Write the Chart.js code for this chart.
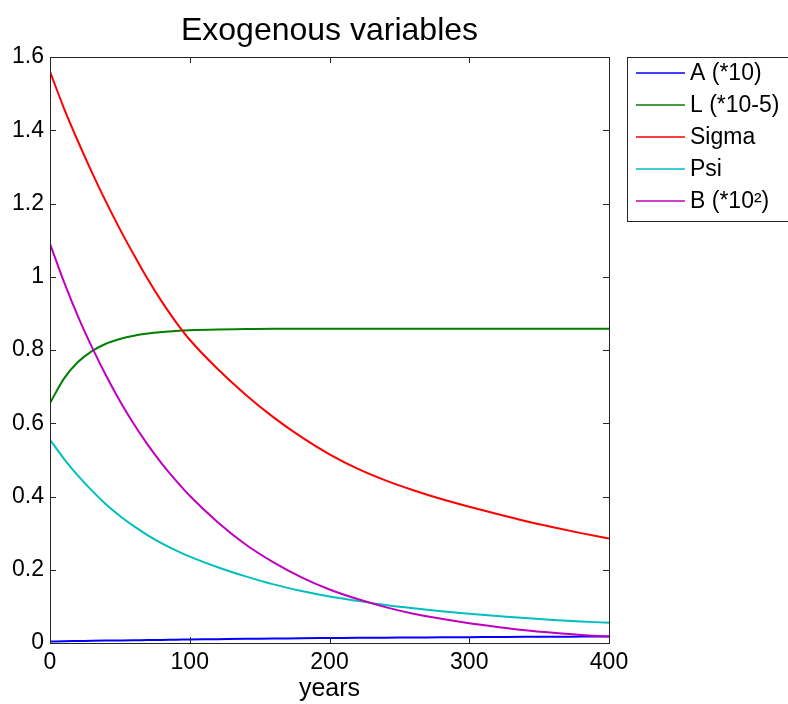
<!DOCTYPE html>
<html>
    <head>
        <title>Exogenous variables</title>
        <script src="https://cdn.jsdelivr.net/npm/chart.js@4.4.1/dist/chart.umd.min.js">
        </script>
        <style>
            body { margin: 0; background: #fff; }
        </style>
    </head>
    <body>
        <canvas id="myChart" width="788" height="704"></canvas>

        <script>
            // values
            const years = [0, 10, 20, 30, 40, 50, 60, 70, 80, 90, 100, 120, 140, 160, 180, 200, 220, 240, 260, 280, 300, 320, 340, 360, 380, 400];
            const seriesA = [0.004, 0.005, 0.0055, 0.006, 0.0065, 0.007, 0.0075, 0.008, 0.0085, 0.009, 0.0095, 0.0105, 0.0115, 0.012, 0.013, 0.0135, 0.014, 0.0145, 0.015, 0.0155, 0.016, 0.0165, 0.017, 0.017, 0.0175, 0.018];
            const seriesL = [0.655, 0.722, 0.767, 0.797, 0.817, 0.830, 0.839, 0.845, 0.849, 0.852, 0.854, 0.856, 0.857, 0.858, 0.858, 0.858, 0.858, 0.858, 0.858, 0.858, 0.858, 0.858, 0.858, 0.858, 0.858, 0.858];
            const seriesSigma = [1.56, 1.46, 1.37, 1.285, 1.205, 1.13, 1.06, 0.993, 0.932, 0.877, 0.828, 0.748, 0.678, 0.616, 0.562, 0.515, 0.476, 0.444, 0.417, 0.393, 0.372, 0.352, 0.333, 0.316, 0.300, 0.285];
            const seriesPsi = [0.555, 0.503, 0.457, 0.416, 0.379, 0.347, 0.319, 0.294, 0.272, 0.253, 0.236, 0.207, 0.182, 0.160, 0.142, 0.127, 0.115, 0.104, 0.095, 0.087, 0.080, 0.074, 0.068, 0.063, 0.059, 0.055];
            const seriesB = [1.09, 0.986, 0.892, 0.808, 0.731, 0.661, 0.598, 0.541, 0.490, 0.444, 0.402, 0.330, 0.269, 0.220, 0.179, 0.146, 0.120, 0.098, 0.080, 0.066, 0.054, 0.044, 0.035, 0.028, 0.022, 0.018];
            const seriesNames = ['A (*10)', 'L (*10-5)', 'Sigma', 'Psi', 'B (*10\u00b2)'];
            const xTickLabels = ['0', '100', '200', '300', '400'];
            const yTickLabels = ['0', '0.2', '0.4', '0.6', '0.8', '1', '1.2', '1.4', '1.6'];

            const FONT = "'Liberation Sans', Arial, sans-serif";
            const colors = ['#0000ff', '#008000', '#ff0000', '#00bfbf', '#bf00bf'];

            function toPoints(vals) {
                let pts = [];
                for (let i = 0; i < years.length; i++) {
                    pts.push({x: years[i], y: vals[i]});
                }
                return pts;
            }

            const allSeries = [seriesA, seriesL, seriesSigma, seriesPsi, seriesB];
            let datasets = [];
            for (let i = 0; i < allSeries.length; i++) {
                datasets.push({
                    label: seriesNames[i],
                    data: toPoints(allSeries[i]),
                    borderColor: colors[i],
                    backgroundColor: colors[i],
                    borderWidth: 2,
                    pointRadius: 0,
                    cubicInterpolationMode: 'monotone',
                    order: allSeries.length - i
                });
            }

            // matlab style box + inward ticks + boxed legend
            const matlabBox = {
                id: 'matlabBox',
                beforeDraw(chart) {
                    const ctx = chart.ctx;
                    ctx.save();
                    ctx.fillStyle = '#fff';
                    ctx.fillRect(0, 0, chart.width, chart.height);
                    ctx.restore();
                },
                afterDraw(chart) {
                    const ctx = chart.ctx;
                    const a = chart.chartArea;
                    const xs = chart.scales.x, ys = chart.scales.y;
                    ctx.save();
                    ctx.strokeStyle = '#262626';
                    ctx.lineWidth = 1;
                    ctx.strokeRect(a.left + 0.5, a.top + 0.5, a.right - a.left, a.bottom - a.top);
                    ctx.beginPath();
                    xs.ticks.forEach(t => {
                        const px = Math.round(xs.getPixelForValue(t.value)) + 0.5;
                        ctx.moveTo(px, a.bottom); ctx.lineTo(px, a.bottom - 6);
                        ctx.moveTo(px, a.top); ctx.lineTo(px, a.top + 6);
                    });
                    ys.ticks.forEach(t => {
                        const py = Math.round(ys.getPixelForValue(t.value)) + 0.5;
                        ctx.moveTo(a.left, py); ctx.lineTo(a.left + 6, py);
                        ctx.moveTo(a.right, py); ctx.lineTo(a.right - 6, py);
                    });
                    ctx.stroke();

                    // legend
                    const lx = a.right + 18, ly = a.top;
                    const rowH = 32;
                    ctx.strokeRect(lx + 0.5, ly + 0.5, 175, 164);
                    ctx.font = '23px ' + FONT;
                    ctx.textBaseline = 'middle';
                    ctx.fillStyle = '#000';
                    chart.data.datasets.forEach((ds, i) => {
                        const y = ly + 16 + i * rowH;
                        ctx.strokeStyle = ds.borderColor;
                        ctx.lineWidth = 1.5;
                        ctx.beginPath();
                        ctx.moveTo(lx + 9, y); ctx.lineTo(lx + 58, y);
                        ctx.stroke();
                        ctx.fillText(ds.label, lx + 63, y + 1);
                    });
                    ctx.restore();
                }
            };

            const ctx = document.getElementById('myChart');
            const myChart = new Chart(ctx, {
                type: 'line',
                data: { datasets: datasets },
                options: {
                    responsive: false,
                    animation: false,
                    layout: { padding: { top: 0, right: 179, bottom: 0, left: 0 } },
                    plugins: {
                        legend: { display: false },
                        tooltip: { enabled: false },
                        title: {
                            display: true,
                            text: 'Exogenous variables',
                            fullSize: false,
                            color: '#000',
                            font: { family: FONT, size: 32, weight: 'normal' },
                            padding: { top: 12, bottom: 6.6 }
                        }
                    },
                    scales: {
                        x: {
                            type: 'linear',
                            min: 0,
                            max: 400,
                            grid: { display: false, drawTicks: false },
                            border: { display: false },
                            ticks: {
                                stepSize: 100,
                                padding: 6,
                                color: '#000',
                                font: { family: FONT, size: 23 },
                                maxRotation: 0,
                                callback: (v, i) => xTickLabels[i]
                            },
                            title: {
                                display: true,
                                text: 'years',
                                color: '#000',
                                font: { family: FONT, size: 25 },
                                padding: 0
                            },
                            afterFit: function(scale) { scale.height = 61; }
                        },
                        y: {
                            min: 0,
                            max: 1.6,
                            grid: { display: false, drawTicks: false },
                            border: { display: false },
                            ticks: {
                                stepSize: 0.2,
                                padding: 6,
                                color: '#000',
                                font: { family: FONT, size: 23 },
                                callback: (v, i) => yTickLabels[i]
                            },
                            afterFit: function(scale) { scale.width = 50; }
                        }
                    }
                },
                plugins: [matlabBox]
            });
        </script>
    </body>
</html>
